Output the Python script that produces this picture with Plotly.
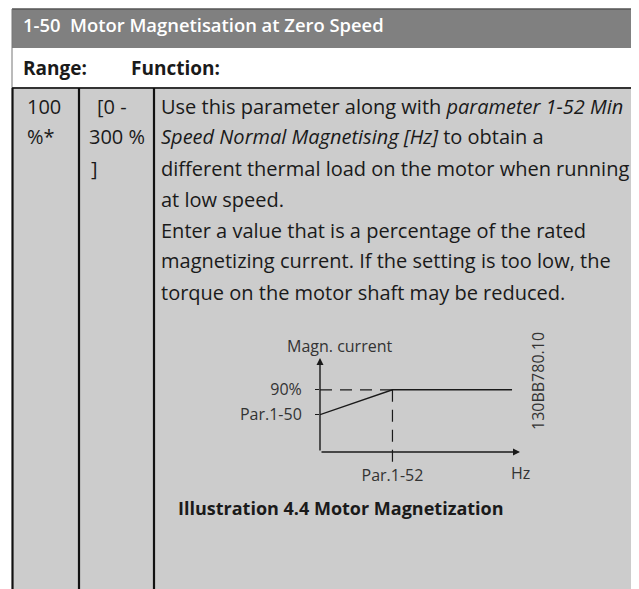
import plotly.graph_objects as go

W, H = 639, 589
OFF = 8  # page body margin of the html page

# ---- data ----
title_text = "1-50  Motor Magnetisation at Zero Speed"
header_cols = ["Range:", "Function:"]
default_lines = ["100", "%*"]
range_lines = ["[0 -", "300 %", "]"]
function_lines = [
    "Use this parameter along with <i>parameter 1-52 Min</i>",
    "<i>Speed Normal Magnetising [Hz]</i> to obtain a",
    "different thermal load on the motor when running",
    "at low speed.",
    "Enter a value that is a percentage of the rated",
    "magnetizing current. If the setting is too low, the",
    "torque on the motor shaft may be reduced.",
]
caption = "Illustration 4.4 Motor Magnetization"

# chart data (schematic): speed in units of Par.1-52, current in %
speed = [0, 1, 2.65]
magn_current = [54, 90, 90]
x_tick_vals = [1]
x_tick_text = ["Par.1-52"]
y_tick_vals = [54, 90]
y_tick_text = ["Par.1-50", "90%"]
x_label = "Hz"
y_label = "Magn. current"
drawing_id = "130BB780.10"

FONT = "Open Sans"
TXT = "#1a1a1a"
CTXT = "#333333"


def px(x):
    return (x - OFF) / W


def py(y):
    return 1 - (y - OFF) / H


fig = go.Figure()

fig.add_trace(go.Scatter(
    x=speed, y=magn_current, mode="lines",
    line=dict(color="#1a1a1a", width=1.4),
    cliponaxis=False, showlegend=False, hoverinfo="skip",
))

shapes = []
shapes.append(dict(type="rect", xref="paper", yref="paper",
                   x0=px(12), x1=px(660), y0=py(9), y1=py(48),
                   fillcolor="#808080", line=dict(width=0), layer="below"))
shapes.append(dict(type="line", xref="paper", yref="paper",
                   x0=px(12), x1=px(660), y0=py(9), y1=py(9),
                   line=dict(color="#555555", width=1.5), layer="below"))
shapes.append(dict(type="rect", xref="paper", yref="paper",
                   x0=px(12), x1=px(660), y0=py(88), y1=py(610),
                   fillcolor="#cccccc", line=dict(width=0), layer="below"))
shapes.append(dict(type="line", xref="paper", yref="paper",
                   x0=px(12), x1=px(12), y0=py(9), y1=py(88),
                   line=dict(color="#777777", width=1), layer="below"))
shapes.append(dict(type="line", xref="paper", yref="paper",
                   x0=px(12), x1=px(660), y0=py(88), y1=py(88),
                   line=dict(color="#333333", width=2), layer="below"))
for xv in (12.5, 79, 154):
    shapes.append(dict(type="line", xref="paper", yref="paper",
                       x0=px(xv), x1=px(xv), y0=py(88), y1=py(610),
                       line=dict(color="#111111", width=2.2), layer="below"))

# dashed guides in data coords
shapes.append(dict(type="line", xref="x", yref="y",
                   x0=0, x1=x_tick_vals[0], y0=90, y1=90,
                   line=dict(color="#1a1a1a", width=1.2, dash="12px,8px")))
shapes.append(dict(type="line", xref="x", yref="y",
                   x0=x_tick_vals[0], x1=x_tick_vals[0], y0=90, y1=-15,
                   line=dict(color="#1a1a1a", width=1.2, dash="12px,8px")))

ann = []


def text(x, y, s, size=18, color=TXT, anchor="left", weight=400, angle=0):
    ann.append(dict(xref="paper", yref="paper", x=px(x), y=py(y), text=s,
                    showarrow=False, xanchor=anchor, yanchor="middle",
                    textangle=angle,
                    font=dict(family=FONT, size=size, color=color, weight=weight)))


text(21, 24, title_text, size=18.4, color="white", weight=600)
text(21, 68, header_cols[0], size=19, weight=700)
text(129, 68, header_cols[1], size=19, weight=700)
for i, s in enumerate(default_lines):
    text(25, 106 + 31 * i, s, size=20)
text(95, 106, range_lines[0], size=20)
text(87, 137, range_lines[1], size=20)
text(89, 168, range_lines[2], size=20)
for i, s in enumerate(function_lines):
    text(159, 106 + 31 * i, s, size=20)
text(176, 508, caption, size=18, weight=700)

# chart labels
text(340, 346, y_label, size=16, color=CTXT, anchor="center")
text(520, 473, x_label, size=16, color=CTXT, anchor="center")
text(538, 381, drawing_id, size=16, color=CTXT, anchor="center", angle=-90)

# axes with arrows
ann.append(dict(xref="x", yref="y", x=0, y=136, axref="x", ayref="y", ax=0, ay=0,
                showarrow=True, arrowhead=2, arrowsize=1, arrowwidth=1.4,
                arrowcolor="#1a1a1a", text=""))
ann.append(dict(xref="x", yref="y", x=2.76, y=0, axref="x", ayref="y", ax=0, ay=0,
                showarrow=True, arrowhead=2, arrowsize=1, arrowwidth=1.4,
                arrowcolor="#1a1a1a", text=""))

fig.update_layout(
    width=W, height=H,
    margin=dict(l=0, r=0, t=0, b=0),
    paper_bgcolor="white",
    plot_bgcolor="rgba(0,0,0,0)",
    shapes=shapes,
    annotations=ann,
    showlegend=False,
    xaxis=dict(domain=[px(320), px(520)], range=[0, 2.76],
               showgrid=False, zeroline=False, showline=False,
               tickvals=x_tick_vals, ticktext=x_tick_text,
               ticks="", ticklabelstandoff=1,
               tickfont=dict(family=FONT, size=16, color=CTXT),
               fixedrange=True, anchor="y"),
    yaxis=dict(domain=[py(463), py(358)], range=[-16, 136],
               showgrid=False, zeroline=False, showline=False,
               tickvals=y_tick_vals, ticktext=y_tick_text,
               ticks="outside", ticklen=4, tickcolor="#1a1a1a", tickwidth=1.2,
               ticklabelstandoff=10,
               tickfont=dict(family=FONT, size=16, color=CTXT),
               fixedrange=True, anchor="x"),
)

fig.write_html("out.html")
